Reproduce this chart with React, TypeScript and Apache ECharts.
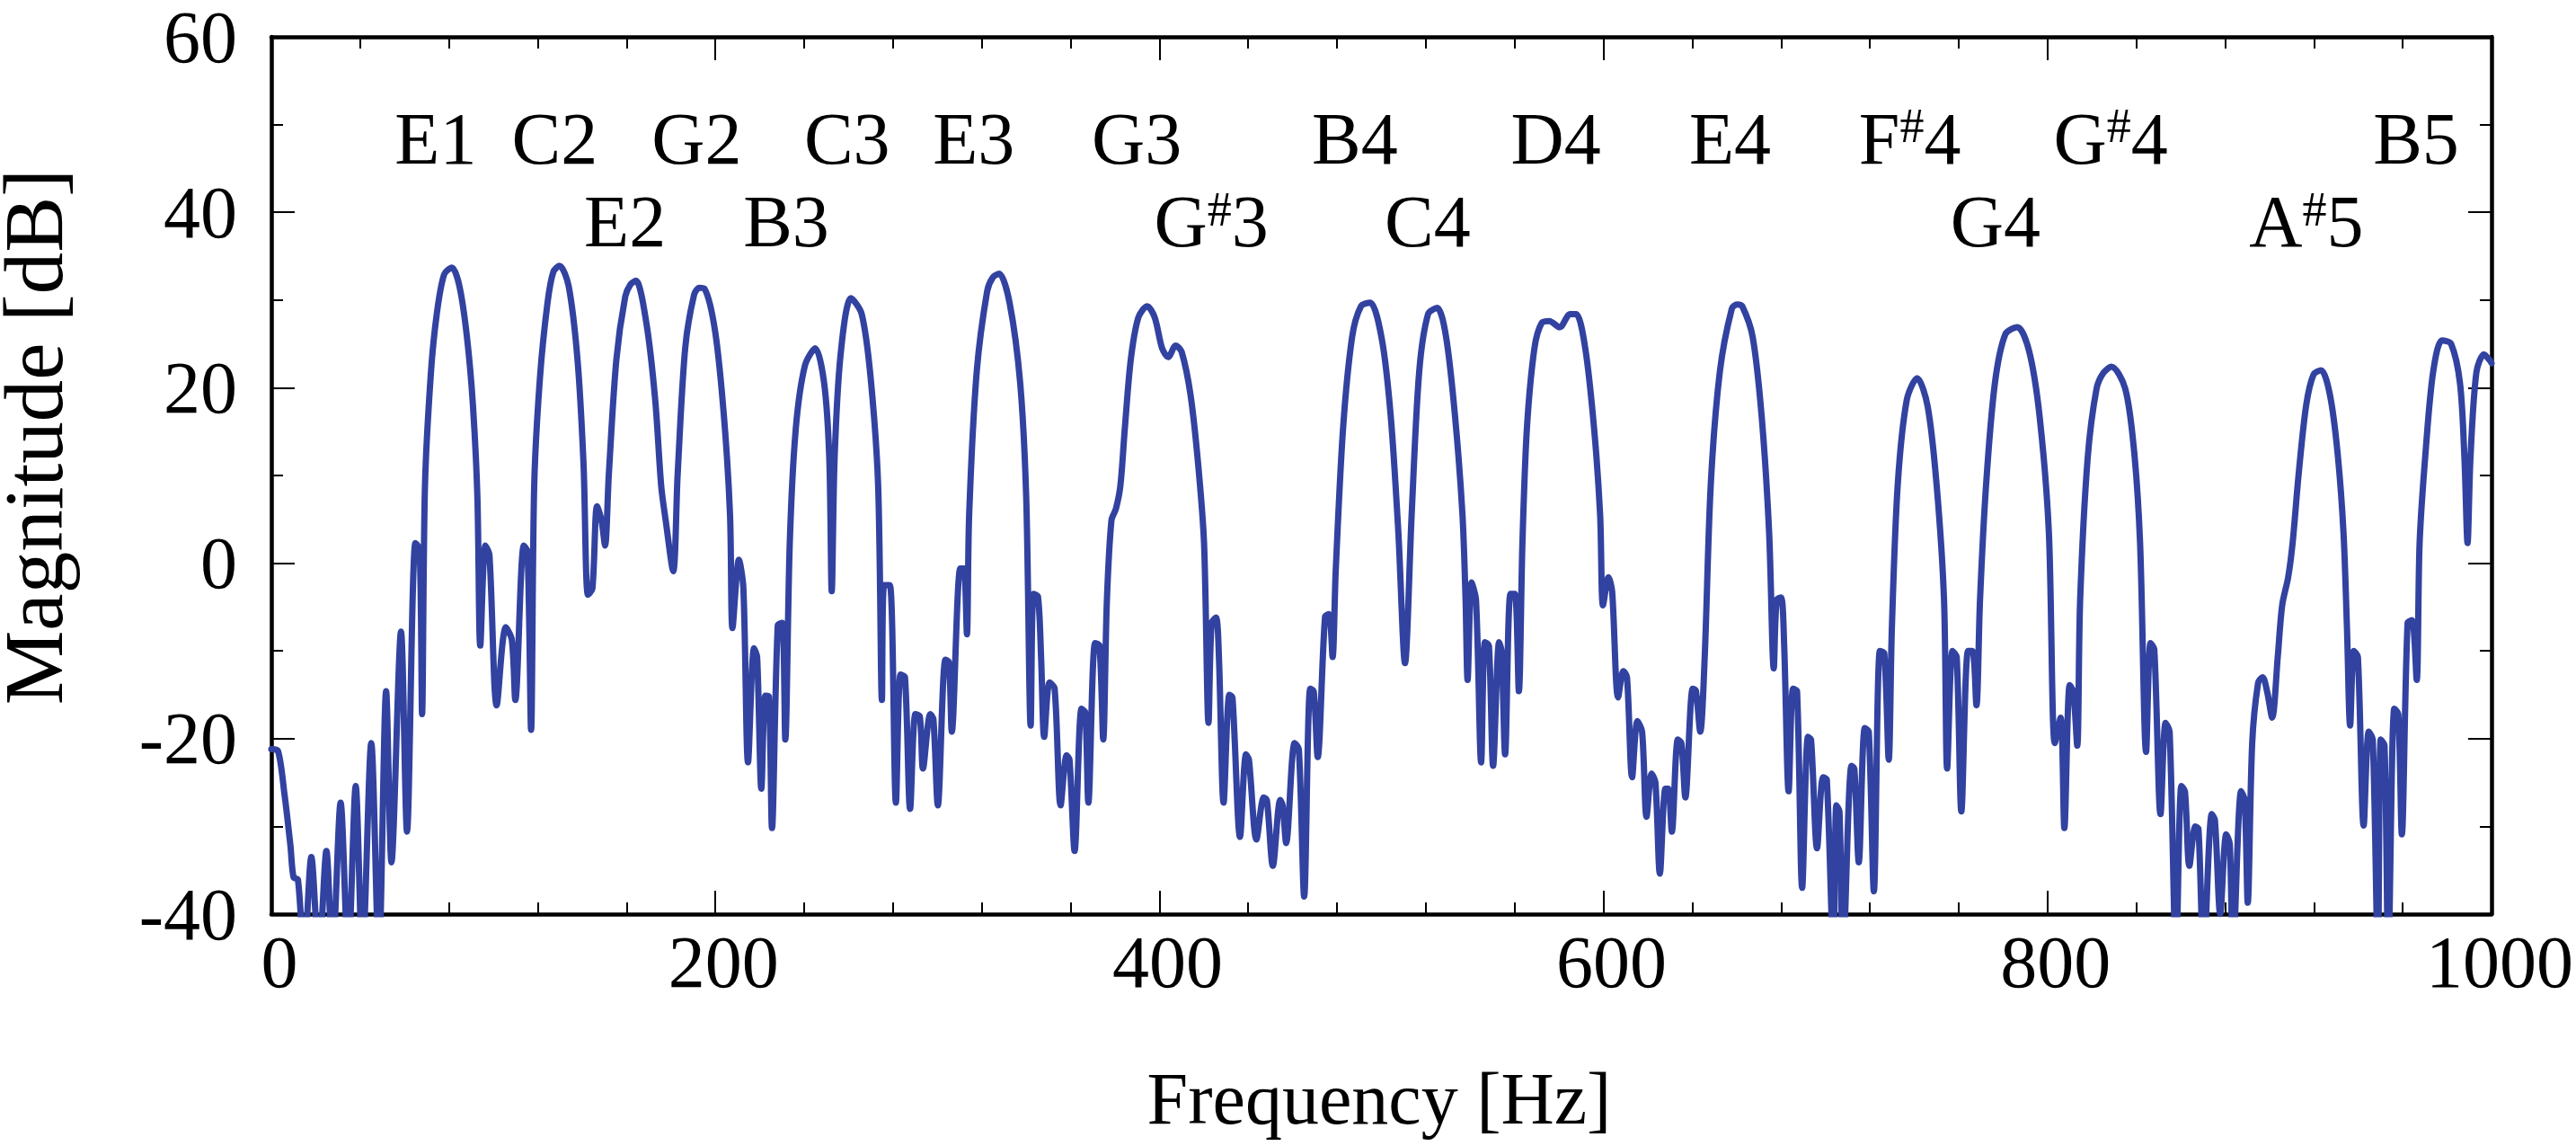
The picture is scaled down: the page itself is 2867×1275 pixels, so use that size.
import React, { useEffect, useRef } from "react";
import * as echarts from "echarts";

// Spectrum trace
const freqHz = [
  0, 3, 5.9, 8.6, 10, 12, 14.7, 18, 21.4, 24.8, 27.5, 31.2, 34.6, 38, 41, 45, 48.4, 51.7, 54.1, 58.4,
  61.1, 64.9, 66.8, 67.9, 69.2, 71.9, 74.5, 77.8, 81.3, 84.7, 88.1, 90.8, 92.8, 94.1, 96.4, 98.2, 101.5,
  105.6, 108.3, 109.9, 113.7, 115.4, 117, 118.4, 121, 124.4, 127, 129.8, 133.9, 137.9, 140.6, 142.6, 144.6,
  146.7, 148.7, 150.3, 152, 155.4, 159.4, 161.8, 164.2, 168.9, 172.9, 175.6, 177.6, 181, 183, 186.4, 190.4,
  192.8, 195.1, 199.9, 203.9, 206.6, 207.7, 210.6, 212.6, 214.7, 217.4, 218.8, 220.7, 222.5, 224.1, 225.5,
  228.1, 230.1, 231.5, 233.5, 236.2, 240.3, 245, 249, 251.3, 252.4, 253.7, 256.4, 261.1, 265.9, 269.9,
  273.3, 275, 276, 278.6, 281.3, 283.4, 285.4, 287.7, 290.1, 292.1, 293.5, 296.8, 298.2, 300.2, 303.6,
  305.2, 306.5, 310.3, 311.9, 313.3, 314.3, 317.7, 322.4, 325, 327.8, 332.5, 337.3, 340, 342, 343.3, 345.3,
  346.7, 348.1, 350.5, 352.8, 355.5, 358.2, 359.5, 361.8, 364.9, 366.6, 368, 371, 373, 374.7, 376.3,
  378.4, 380.4, 382.4, 384.4, 387.1, 390.5, 394.5, 397.9, 401.2, 404, 407.3, 410, 414, 417.4, 420.1,
  422.1, 423.5, 425.5, 426.8, 428.9, 431.5, 432.9, 436.3, 439, 440.3, 443.7, 447, 448.4, 451.1, 454.4,
  455.5, 457.1, 460.9, 462.8, 465.2, 467.9, 469.5, 471.3, 474.6, 476.4, 478, 479.4, 482.7, 486.8, 490.8,
  494.9, 500.2, 504.2, 507.6, 510.6, 513.6, 517, 521, 525.1, 529.1, 533.2, 536.5, 537.9, 538.8, 540.6,
  542.6, 544.9, 546.6, 548.4, 550.3, 553, 554.1, 555.7, 558.1, 560.1, 561.9, 563.5, 565.5, 568.9, 572.2,
  575.6, 580.3, 585, 587.7, 591.8, 595.8, 598.5, 599.8, 602.3, 603.9, 606.6, 609, 610.6, 612.9, 615.3,
  617.4, 619.4, 621.7, 623.4, 625.4, 627.9, 629.2, 630.8, 633.5, 635.1, 636.9, 640.2, 641.6, 643.6,
  645.6, 648.3, 652.4, 657.8, 660.2, 662.5, 667.2, 671.3, 674.6, 676.7, 678, 680, 681.4, 683.4, 685.4, 687.2,
  689.5, 692.1, 693.5, 696.2, 698.9, 700.6, 703.6, 704.9, 706.3, 707.9, 711.7, 713, 715, 717.7, 719.5,
  721.8, 724.5, 726.5, 728.5, 729.9, 732.5, 736.6, 741.3, 746, 750.1, 753.4, 754.8, 757.2, 759.1, 761.2,
  764.2, 766.2, 768, 769.6, 772.3, 776.3, 781, 786.4, 791.8, 796.5, 800.6, 803.3, 805.9, 807.6, 810,
  811.6, 813.4, 814.7, 818.1, 822.1, 825.2, 828.8, 835, 839, 841.7, 844.4, 846.4, 848.1, 850.9, 853.2, 855,
  857.9, 860.3, 861.9, 863.9, 866.6, 868, 870.3, 874, 875.4, 877.8, 880.5, 882.1, 883.5, 887.2, 888.8,
  890.2, 892.2, 894.9, 896.9, 898.9, 901.2, 903.7, 905.7, 908.4, 910.4, 913.1, 916.5, 919.8, 923.2,
  927.2, 930.6, 933.3, 934.9, 936.3, 938, 939.8, 942.4, 944.7, 946.5, 948.8, 950.1, 951.8, 953.5, 956.2,
  958, 959.6, 962.2, 964.2, 966.3, 967.6, 970.3, 973.7, 977.7, 981.8, 985.8, 987.8, 989.2, 990.5, 993.2,
  996.6, 999.3, 1000,
];

const magnitudeDb = [
  -21.2, -21.4, -26.3, -32.2, -35.8, -36.1, -45, -33.5, -45, -32.8, -45, -27.3, -45, -25.4, -45, -20.5, -45, -14.6, -34.1, -7.8,
  -30.6, 2.3, 1.6, -17.2, 8.9, 21.8, 28.4, 32.9, 33.7, 31.6, 25.8, 18, 7.6, -9.4, 2, 1, -16.2,
  -7.3, -8.7, -15.6, 2, 1.3, -19, 8.9, 21.2, 29.7, 33.2, 33.9, 31.6, 23.2, 11.4, -3.6, -2.9,
  6.5, 4.9, 2, 10.1, 23.2, 30.4, 31.8, 32.2, 27.4, 18.6, 8.8, 4.9, -0.9, 10.1, 24.5, 30.6,
  31.4, 31.3, 26.4, 16.6, 5.5, -7.4, 0.4, -2.8, -22.7, -9.7, -10.7, -25.7, -15.1, -15.2, -30.2,
  -7.1, -6.8, -20.1, 2.3, 15.3, 22.5, 24.5, 20.5, 12, -3.2, 12, 23.8, 30.2, 28.4, 21.2,
  8.9, -15.6, -2.5, -2.5, -27.3, -12.7, -13, -28, -17.2, -17.5, -23.4, -17.2, -17.8, -27.6, -11,
  -11.3, -19.2, -0.6, -0.6, -8.1, 5.5, 21.8, 31.0, 32.6, 33, 29.7, 20.5, 7.5, -18.5, -3.5, -3.8,
  -10.7, -19.8, -13.6, -14.3, -27.6, -21.9, -22.4, -32.8, -16.6, -17, -27.3, -9.1, -9.4, -20.1, -4.5,
  4.9, 6.2, 8.8, 15.3, 23.2, 28, 29.3, 28, 24.5, 23.5, 24.8, 24.1, 19.2, 11.4, 2.3,
  -18.2, -6.8, -6.2, -10.7, -27.3, -15, -15.3, -31.2, -21.8, -22.4, -31.5, -26.7, -27, -34.5, -27,
  -27.6, -31.9, -20.5, -21.2, -38, -14.3, -14.6, -22.1, -6.1, -5.8, -10.7, -0.9, 15.3, 25.8, 29.3,
  29.7, 25.5, 16.7, 3.6, -11.4, 5.5, 21.8, 28.4, 29.1, 25.8, 16.6, 5.5, -4.2, -13.3, -2.2,
  -4.2, -22.7, -9, -9.4, -23.1, -9, -10, -21.8, -3.5, -3.5, -14.6, 2.3, 15.3, 24.5, 27.4,
  27.6, 26.9, 28.4, 28.4, 24.5, 15.3, 5.5, -4.8, -1.6, -3.2, -15.3, -12.3, -13, -24.4, -18,
  -19.2, -28.9, -24, -25, -35.4, -25.7, -25.7, -30.6, -20.1, -20.5, -26.7, -14.3, -14.5, -19.2,
  -10.7, 8.8, 21.8, 29, 29.5, 29.3, 25.8, 16.6, 3.6, -12, -4.2, -3.9, -9.4, -26, -14.3, -14.6,
  -37, -19.8, -20.1, -32.5, -24.4, -24.7, -45, -27.6, -28.3, -45, -23.1, -23.4, -34.1, -18.8, -19.2,
  -37.4, -10, -10.3, -22.4, -7.4, 8.8, 18.6, 21.1, 17.9, 8.8, -4.2, -23.4, -10, -10.7, -28.3,
  -10, -10, -16.2, -4.2, 8.8, 20.5, 26.1, 26.9, 24.1, 16.6, 3.6, -20.5, -17.6, -30.2, -13.9,
  -14.6, -20.8, -4.2, 12, 19.9, 21.7, 22.4, 19.9, 12.8, 2.3, -21.5, -9.1, -9.8, -28.6, -18.2, -19.2,
  -45, -25.4, -26, -34.5, -30, -30.3, -45, -28.6, -29.3, -40, -30.9, -32, -45, -26, -27,
  -38.7, -20.5, -13.6, -13, -14.6, -17.6, -10.7, -4.8, -1.6, 2.3, 10.1, 18, 21.5, 22,
  19.2, 12.7, 3.6, -7.5, -18.5, -10, -10.7, -29.9, -19.2, -20.1, -45, -20.1, -20.8, -45, -16.6,
  -17.2, -30.9, -6.8, -6.5, -13.3, 2.3, 12.7, 21.8, 25.4, 25, 20.5, 12, 2.3, 12, 21.8,
  23.8, 23.1, 22.8,
];

// Note annotations ("{s|#}" marks a superscript sharp)
const noteNames = [
  "E1", "C2", "E2", "G2", "B3", "C3", "E3", "G3", "G{s|#}3", "B4",
  "C4", "D4", "E4", "F{s|#}4", "G4", "G{s|#}4", "A{s|#}5", "B5",
];
const noteFreqHz = [74, 127.6, 159.3, 191.6, 231.9, 259.3, 316.4, 389.8, 423.4, 488, 520.8, 578.6, 657, 738, 776.6, 828.5, 916.6, 966];
const noteLevelDb = [48.4, 48.4, 38.9, 48.4, 38.9, 48.4, 48.4, 48.4, 38.9, 48.4, 38.9, 48.4, 48.4, 48.4, 38.9, 48.4, 38.9, 48.4];

// Axis tick values
const xTickValues = [0, 200, 400, 600, 800, 1000];
const yTickValues = [-40, -20, 0, 20, 40, 60];

const FONT = "'Liberation Serif', 'Times New Roman', serif";
const LINE_COLOR = "#3242a0";

export default function App() {
  const ref = useRef<HTMLDivElement>(null);

  useEffect(() => {
    if (!ref.current) return;
    const chart = echarts.init(ref.current, undefined, { renderer: "svg" });

    const xMin = xTickValues[0];
    const xMax = xTickValues[xTickValues.length - 1];
    const xInt = xTickValues[1] - xTickValues[0];
    const yMin = yTickValues[0];
    const yMax = yTickValues[yTickValues.length - 1];
    const yInt = yTickValues[1] - yTickValues[0];

    const axisLine = { show: true, onZero: false, lineStyle: { color: "#000", width: 4.5 } };
    const axisTick = { show: true, inside: true, length: 26, lineStyle: { color: "#000", width: 2 } };
    const minorTickX = { show: true, splitNumber: 5, length: 13, lineStyle: { color: "#000", width: 2 } };
    const minorTickY = { show: true, splitNumber: 2, length: 13, lineStyle: { color: "#000", width: 2 } };

    const lineData = freqHz.map((f, i) => [f, magnitudeDb[i]]);
    const noteData = noteNames.map((n, i) => ({
      name: n,
      value: [noteFreqHz[i], noteLevelDb[i]],
    }));

    chart.setOption({
      animation: false,
      backgroundColor: "#fff",
      grid: { left: 302, right: 92, top: 29, bottom: 258, containLabel: false },
      xAxis: [
        {
          type: "value",
          min: xMin,
          max: xMax,
          interval: xInt,
          position: "bottom",
          axisLine,
          axisTick,
          minorTick: minorTickX,
          splitLine: { show: false },
          minorSplitLine: { show: false },
          axisLabel: {
            show: true,
            showMinLabel: true,
            showMaxLabel: true,
            margin: 18,
            fontSize: 82,
            lineHeight: 70,
            fontFamily: FONT,
            color: "#000",
            padding: [0, 0, 0, 18],
            formatter: (v: number) => String(v),
          },
        },
        {
          type: "value",
          min: xMin,
          max: xMax,
          interval: xInt,
          position: "top",
          axisLine,
          axisTick,
          minorTick: minorTickX,
          splitLine: { show: false },
          minorSplitLine: { show: false },
          axisLabel: { show: false },
        },
      ],
      yAxis: [
        {
          type: "value",
          min: yMin,
          max: yMax,
          interval: yInt,
          position: "left",
          axisLine,
          axisTick,
          minorTick: minorTickY,
          splitLine: { show: false },
          minorSplitLine: { show: false },
          axisLabel: {
            show: true,
            showMinLabel: true,
            showMaxLabel: true,
            margin: 38,
            fontSize: 82,
            lineHeight: 56,
            fontFamily: FONT,
            color: "#000",
            formatter: (v: number) => String(v),
          },
        },
        {
          type: "value",
          min: yMin,
          max: yMax,
          interval: yInt,
          position: "right",
          axisLine,
          axisTick,
          minorTick: minorTickY,
          splitLine: { show: false },
          minorSplitLine: { show: false },
          axisLabel: { show: false },
        },
      ],
      series: [
        {
          type: "line",
          xAxisIndex: 0,
          yAxisIndex: 0,
          data: lineData,
          showSymbol: false,
          symbol: "none",
          smooth: 0.3,
          clip: true,
          lineStyle: { color: LINE_COLOR, width: 7, join: "round", cap: "round" },
          silent: true,
          z: 2,
        },
        {
          type: "scatter",
          xAxisIndex: 0,
          yAxisIndex: 0,
          data: noteData,
          symbol: "circle",
          symbolSize: 0.01,
          itemStyle: { color: "#000" },
          silent: true,
          z: 3,
          label: {
            show: true,
            position: "inside",
            formatter: (p: any) => p.name,
            fontSize: 82,
            fontFamily: FONT,
            color: "#000",
            opacity: 1,
            textBorderWidth: 0,
            textBorderColor: "transparent",
            align: "center",
            verticalAlign: "middle",
            lineHeight: 82,
            rich: {
              s: {
                fontSize: 54,
                fontFamily: FONT,
                color: "#000",
                textBorderWidth: 0,
                verticalAlign: "top",
                lineHeight: 82,
                padding: [0, 0, 26, 0],
              },
            },
          },
        },
      ],
      graphic: [
        {
          type: "text",
          x: 1535,
          y: 1222,
          silent: true,
          style: {
            text: "Frequency [Hz]",
            fontSize: 82,
            fontFamily: FONT,
            fill: "#000",
            align: "center",
            verticalAlign: "middle",
          },
        },
        {
          type: "text",
          x: 37,
          y: 486,
          rotation: Math.PI / 2,
          silent: true,
          style: {
            text: "Magnitude [dB]",
            fontSize: 93,
            lineHeight: 66,
            fontFamily: FONT,
            fill: "#000",
            align: "center",
            verticalAlign: "middle",
          },
        },
      ],
    });

    return () => chart.dispose();
  }, []);

  return (
    <div
      ref={ref}
      style={{ position: "fixed", left: 0, top: 0, width: 2867, height: 1275, background: "#fff" }}
    />
  );
}
